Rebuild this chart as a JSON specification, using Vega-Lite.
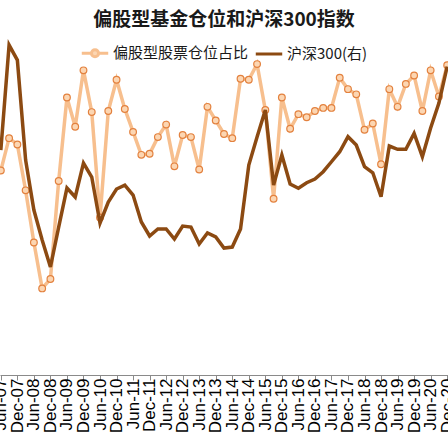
{
  "$schema": "https://vega.github.io/schema/vega-lite/v6.json",
  "width": 448,
  "height": 313,
  "autosize": {"type": "none"},
  "padding": {"top": 62, "bottom": 73, "left": 0, "right": 0},
  "background": "white",
  "title": {
    "text": "偏股型基金仓位和沪深300指数",
    "anchor": "middle",
    "frame": "group",
    "font": "Noto Sans CJK SC",
    "fontSize": 19,
    "fontWeight": "bold",
    "color": "#1a1a1a",
    "offset": 8
  },
  "config": {
    "view": {"stroke": null},
    "axis": {"grid": false}
  },
  "data": {
    "values": [
      {"q": "Jun-07", "fund": 74.6, "hs": 3794},
      {"q": "Sep-07", "fund": 77.7, "hs": 5564},
      {"q": "Dec-07", "fund": 77.1, "hs": 5311},
      {"q": "Mar-08", "fund": 72.7, "hs": 3625},
      {"q": "Jun-08", "fund": 67.7, "hs": 2782},
      {"q": "Sep-08", "fund": 63.3, "hs": 2276},
      {"q": "Dec-08", "fund": 64.2, "hs": 1821},
      {"q": "Mar-09", "fund": 73.6, "hs": 2495},
      {"q": "Jun-09", "fund": 81.6, "hs": 3153},
      {"q": "Sep-09", "fund": 78.8, "hs": 3001},
      {"q": "Dec-09", "fund": 84.2, "hs": 3574},
      {"q": "Mar-10", "fund": 80.2, "hs": 3338},
      {"q": "Jun-10", "fund": 70.1, "hs": 2563},
      {"q": "Sep-10", "fund": 80.3, "hs": 2917},
      {"q": "Dec-10", "fund": 83.3, "hs": 3136},
      {"q": "Mar-11", "fund": 80.5, "hs": 3203},
      {"q": "Jun-11", "fund": 78.3, "hs": 3035},
      {"q": "Sep-11", "fund": 76.1, "hs": 2580},
      {"q": "Dec-11", "fund": 76.2, "hs": 2344},
      {"q": "Mar-12", "fund": 77.8, "hs": 2462},
      {"q": "Jun-12", "fund": 79.0, "hs": 2462},
      {"q": "Sep-12", "fund": 75.0, "hs": 2293},
      {"q": "Dec-12", "fund": 78.0, "hs": 2512},
      {"q": "Mar-13", "fund": 77.8, "hs": 2495},
      {"q": "Jun-13", "fund": 74.7, "hs": 2209},
      {"q": "Sep-13", "fund": 80.7, "hs": 2394},
      {"q": "Dec-13", "fund": 79.4, "hs": 2327},
      {"q": "Mar-14", "fund": 78.1, "hs": 2141},
      {"q": "Jun-14", "fund": 77.7, "hs": 2158},
      {"q": "Sep-14", "fund": 83.4, "hs": 2462},
      {"q": "Dec-14", "fund": 83.3, "hs": 3541},
      {"q": "Mar-15", "fund": 84.8, "hs": 4013},
      {"q": "Jun-15", "fund": 80.4, "hs": 4468},
      {"q": "Sep-15", "fund": 71.9, "hs": 3203},
      {"q": "Dec-15", "fund": 81.6, "hs": 3709},
      {"q": "Mar-16", "fund": 78.6, "hs": 3220},
      {"q": "Jun-16", "fund": 80.0, "hs": 3148},
      {"q": "Sep-16", "fund": 79.7, "hs": 3242},
      {"q": "Dec-16", "fund": 80.3, "hs": 3305},
      {"q": "Mar-17", "fund": 80.6, "hs": 3428},
      {"q": "Jun-17", "fund": 80.6, "hs": 3596},
      {"q": "Sep-17", "fund": 83.5, "hs": 3765},
      {"q": "Dec-17", "fund": 82.4, "hs": 4018},
      {"q": "Mar-18", "fund": 81.9, "hs": 3878},
      {"q": "Jun-18", "fund": 78.5, "hs": 3512},
      {"q": "Sep-18", "fund": 79.1, "hs": 3411},
      {"q": "Dec-18", "fund": 75.2, "hs": 3006},
      {"q": "Mar-19", "fund": 82.4, "hs": 3861},
      {"q": "Jun-19", "fund": 80.7, "hs": 3805},
      {"q": "Sep-19", "fund": 82.9, "hs": 3805},
      {"q": "Dec-19", "fund": 83.7, "hs": 4075},
      {"q": "Mar-20", "fund": 80.3, "hs": 3681},
      {"q": "Jun-20", "fund": 84.2, "hs": 4164},
      {"q": "Sep-20", "fund": 81.7, "hs": 4586},
      {"q": "Dec-20", "fund": 84.7, "hs": 5201}
    ]
  },
  "encoding": {
    "x": {
      "field": "q",
      "type": "ordinal",
      "sort": null,
      "scale": {"type": "point", "padding": 0.1},
      "axis": {
        "title": null,
        "values": ["Jun-07", "Dec-07", "Jun-08", "Dec-08", "Jun-09", "Dec-09", "Jun-10", "Dec-10", "Jun-11", "Dec-11", "Jun-12", "Dec-12", "Jun-13", "Dec-13", "Jun-14", "Dec-14", "Jun-15", "Dec-15", "Jun-16", "Dec-16", "Jun-17", "Dec-17", "Jun-18", "Dec-18", "Jun-19", "Dec-19", "Jun-20", "Dec-20"],
        "labelAngle": -90,
        "labelFont": "Liberation Sans",
        "labelFontSize": 17,
        "labelColor": "#000000",
        "labelPadding": -2,
        "labelOverlap": false,
        "labelFlush": false,
        "domainColor": "#8a8a8a",
        "tickColor": "#8a8a8a",
        "tickSize": 5
      }
    }
  },
  "layer": [
    {
      "mark": {"type": "line", "strokeWidth": 3.5},
      "encoding": {
        "y": {"field": "fund", "type": "quantitative", "scale": {"domain": [55, 85], "nice": false, "zero": false}, "axis": null},
        "color": {
          "datum": "偏股型股票仓位占比",
          "scale": {"domain": ["偏股型股票仓位占比", "沪深300(右)"], "range": ["#F7BF8E", "#8C4A12"]},
          "legend": {
            "title": null,
            "orient": "none",
            "legendX": 80,
            "legendY": -24,
            "direction": "horizontal",
            "symbolSize": 700,
            "symbolStrokeWidth": 3,
            "labelFont": "Noto Sans CJK SC",
            "labelFontSize": 15,
            "labelColor": "#1a1a1a",
            "labelOffset": 3,
            "columnPadding": 0,
            "encode": {
              "symbols": {
                "update": {
                  "shape": {"signal": "datum.value === '沪深300(右)' ? 'M-1,0H1' : 'M-1,0H-0.27M0.27,0H1M-0.27,0A0.27,0.27 0 1,0 0.27,0A0.27,0.27 0 1,0 -0.27,0Z'"},
                  "fill": {"signal": "datum.value === '沪深300(右)' ? 'transparent' : '#FCD6B2'"},
                  "stroke": {"signal": "datum.value === '沪深300(右)' ? '#8C4A12' : '#F0A468'"},
                  "strokeWidth": {"value": 3}
                }
              }
            }
          }
        }
      }
    },
    {
      "mark": {"type": "point", "shape": "circle", "filled": true, "fill": "#FCD6B2", "stroke": "#E3813E", "strokeWidth": 1.2, "size": 45, "opacity": 1},
      "encoding": {
        "y": {"field": "fund", "type": "quantitative", "scale": {"domain": [55, 85], "nice": false, "zero": false}, "axis": null}
      }
    },
    {
      "mark": {"type": "line", "strokeWidth": 3.5},
      "encoding": {
        "y": {"field": "hs", "type": "quantitative", "scale": {"domain": [0, 5278], "nice": false}, "axis": null},
        "color": {"datum": "沪深300(右)"}
      }
    }
  ],
  "resolve": {"scale": {"y": "independent"}}
}
